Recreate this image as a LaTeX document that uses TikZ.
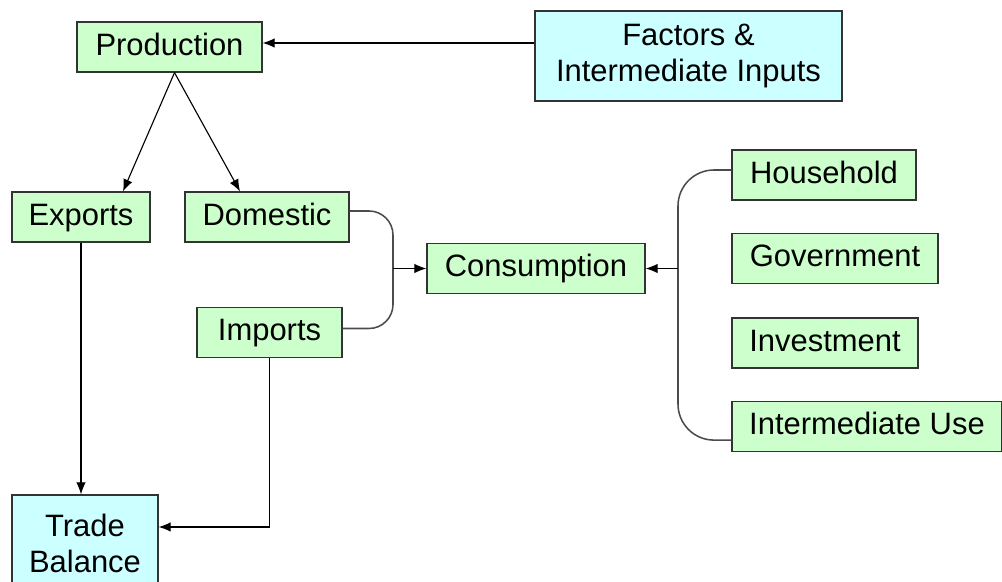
\documentclass[tikz,border=0pt]{standalone}
\usepackage{fontspec}
\setmainfont{Liberation Sans}
\usetikzlibrary{arrows.meta}
\definecolor{boxgreen}{HTML}{CCFFCC}
\definecolor{boxcyan}{HTML}{CCFFFF}
\tikzset{
  gbox/.style={draw=black!80, line width=0.9pt, fill=boxgreen, minimum height=1.25cm,
    inner sep=0pt, text height=16pt, text depth=4.6pt, font=\fontsize{22}{25.6}\selectfont},
  cbox/.style={gbox, fill=boxcyan, align=center, text height=, text depth=},
  arr/.style={-{Latex[length=3mm,width=2.4mm]}, line width=0.8pt},
  bracket/.style={draw=black!70, line width=1.1pt}
}
\begin{document}
\begin{tikzpicture}[x=0.025cm,y=-0.025cm]
\useasboundingbox (0,0) rectangle (1002,582);
% boxes
\node[gbox, minimum width=4.625cm] (prod) at (169.5,47) {Production};
\node[cbox, minimum width=7.675cm, minimum height=2.25cm] (factors) at (688.5,56) {Factors \&\\Intermediate Inputs};
\node[gbox, minimum width=3.45cm] (exports) at (81,217) {Exports};
\node[gbox, minimum width=4.1cm] (domestic) at (267,217) {Domestic};
\node[gbox, minimum width=3.625cm] (imports) at (269.5,332.5) {Imports};
\node[gbox, minimum width=5.45cm] (cons) at (536,268.5) {Consumption};
\node[gbox, minimum width=4.6cm] (household) at (824,175) {Household};
\node[gbox, minimum width=5.15cm] (govt) at (835,258.5) {Government};
\node[gbox, minimum width=4.65cm] (invest) at (825,343) {Investment};
\node[gbox, minimum width=6.75cm] (intuse) at (867,426.5) {Intermediate Use};
\node[cbox, minimum width=3.65cm, minimum height=2.4cm] (trade) at (85,543) {Trade\\Balance};
% joints of the brackets
\coordinate (lj) at (393,268.5);
\coordinate (rj) at (678,268.5);
% arrows
\draw[arr] (factors.west |- 0,43) -- (prod.east |- 0,43);
\draw[arr] ([xshift=0.125cm]prod.south) -- ([xshift=1.05cm]exports.north);
\draw[arr] ([xshift=0.125cm]prod.south) -- ([xshift=-0.675cm]domestic.north);
\draw[arr] (exports.south) -- (exports.south |- trade.north);
\draw[arr] (imports.south) |- ([yshift=0.4cm]trade.east);
\draw[bracket, rounded corners=0.6cm] ([yshift=0.15cm]domestic.east) -| (lj) |- ([yshift=0.1cm]imports.east);
\draw[arr] (lj) -- (cons.west);
\draw[bracket, rounded corners=0.9cm] ([yshift=0.125cm]household.west) -| (rj) |- ([yshift=-0.34cm]intuse.west);
\draw[arr] (rj) -- (cons.east);
\end{tikzpicture}
\end{document}
